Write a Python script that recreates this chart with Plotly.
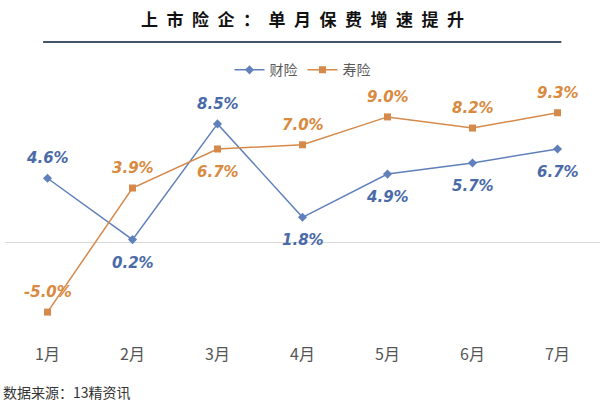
import plotly.graph_objects as go

months = ["1月", "2月", "3月", "4月", "5月", "6月", "7月"]
pc = [4.6, 0.2, 8.5, 1.8, 4.9, 5.7, 6.7]        # 财险
life = [-5.0, 3.9, 6.7, 7.0, 9.0, 8.2, 9.3]     # 寿险
pc_pos = ["up", "down", "up", "down", "down", "down", "down"]
life_pos = ["up", "up", "down", "up", "up", "up", "up"]

BLUE_L = "#6080bb"
ORANGE_L = "#d5894a"
BLUE_T = "#4a6aa8"
ORANGE_T = "#d98a3e"
FONT = "Noto Sans CJK SC, Noto Sans, sans-serif"

fig = go.Figure()
fig.add_trace(go.Scatter(x=months, y=pc, name="财险", mode="lines+markers",
                         line=dict(color=BLUE_L, width=1.5),
                         marker=dict(symbol="diamond", size=7, color=BLUE_L)))
fig.add_trace(go.Scatter(x=months, y=life, name="寿险", mode="lines+markers",
                         line=dict(color=ORANGE_L, width=1.5),
                         marker=dict(symbol="square", size=7, color=ORANGE_L)))

anns = []
for vals, pos, col in ((pc, pc_pos, BLUE_T), (life, life_pos, ORANGE_T)):
    for m, v, p in zip(months, vals, pos):
        anns.append(dict(x=m, y=v, text=f"<b><i>{v:.1f}%</i></b>", showarrow=False,
                         yshift=20 if p == "up" else -23,
                         font=dict(family="DejaVu Sans, sans-serif", size=15, color=col)))

title = "\u2002".join("上市险企：单月保费增速提升")
anns.append(dict(xref="paper", yref="paper", x=0.5, y=1, xanchor="center", yanchor="middle",
                 yshift=78, showarrow=False,
                 text=f"<b>{title}</b>",
                 font=dict(family=FONT, size=17, color="#111111")))
anns.append(dict(xref="paper", yref="paper", x=-0.007, y=0, xanchor="left", yanchor="middle",
                 yshift=-52, showarrow=False, text="数据来源：13精资讯",
                 font=dict(family=FONT, size=14, color="#333333")))

fig.update_layout(
    width=604, height=418,
    margin=dict(l=5, r=4, t=96, b=78),
    paper_bgcolor="white", plot_bgcolor="white",
    showlegend=True,
    legend=dict(orientation="h", x=0.5, xanchor="center", y=1.04, yanchor="bottom",
                font=dict(family=FONT, size=14, color="#595959"),
                itemwidth=30, tracegroupgap=0, bgcolor="rgba(0,0,0,0)"),
    annotations=anns,
    shapes=[dict(type="line", xref="paper", yref="paper", x0=0.064, x1=0.935,
                 y0=1.221, y1=1.221, line=dict(color="#44546a", width=2))],
    xaxis=dict(type="category", range=[-0.5, 6.5], showgrid=False, showline=False,
               ticks="", tickfont=dict(family=FONT, size=16, color="#555555"),
               ticklabelstandoff=3),
    yaxis=dict(range=[-7, 10.5], showgrid=False, showticklabels=False, zeroline=True,
               zerolinecolor="#d9d9d9", zerolinewidth=1, showline=False),
)
fig.write_html("out.html")
